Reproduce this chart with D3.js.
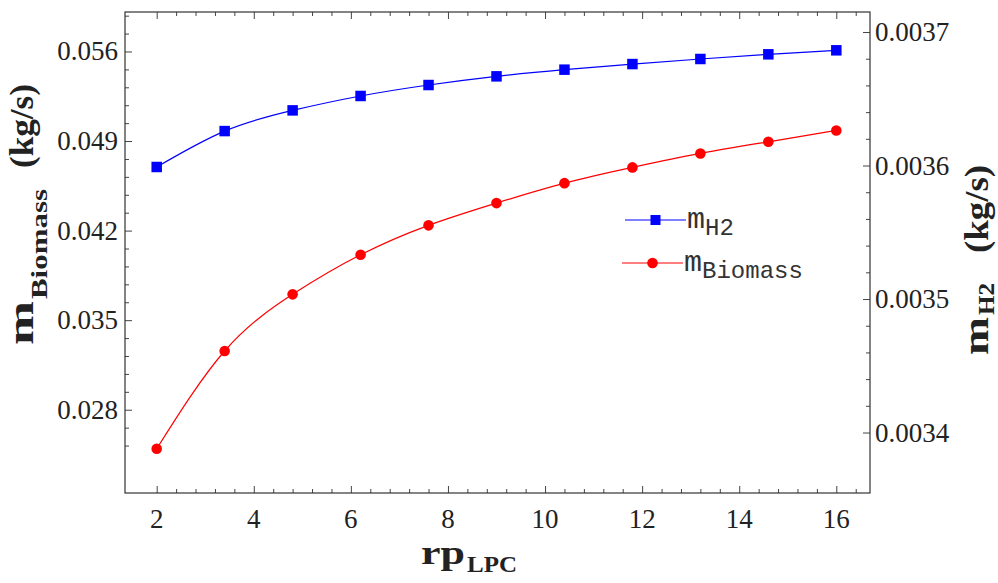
<!DOCTYPE html>
<html>
<head>
<meta charset="utf-8">
<script src="https://cdnjs.cloudflare.com/ajax/libs/d3/7.8.5/d3.min.js"></script>
</head>
<body style="margin:0">
<script>
// Pressure ratio of the low-pressure compressor
const rpLPC = [2, 3.4, 4.8, 6.2, 7.6, 9, 10.4, 11.8, 13.2, 14.6, 16];
// Biomass mass flow (kg/s), left axis
const mBiomass = [0.02495, 0.03259, 0.03702, 0.04011, 0.04241, 0.04415,
                  0.04571, 0.04694, 0.04803, 0.04894, 0.04983];
// Hydrogen mass flow (kg/s), right axis
const mH2 = [0.0035989, 0.0036258, 0.0036413, 0.0036521, 0.0036603, 0.0036668,
             0.0036718, 0.0036760, 0.0036798, 0.0036833, 0.0036863];

const xTicks = [2, 4, 6, 8, 10, 12, 14, 16];
const leftTicks = [0.028, 0.035, 0.042, 0.049, 0.056];
const rightTicks = [0.0034, 0.0035, 0.0036, 0.0037];
const legendLabels = [["m", "H2"], ["m", "Biomass"]];

const SERIF = '"Liberation Serif"';
const MONO = '"Liberation Mono"';

const W = 998, H = 583;
const frame = { left: 125, top: 12, right: 870, bottom: 493 };

const svg = d3.select("body").append("svg").attr("width", W).attr("height", H)
  .style("display", "block");

const x = d3.scaleLinear().domain([1.347, 16.694]).range([frame.left, frame.right]);
const yL = d3.scaleLinear().domain([0.021492, 0.059086]).range([frame.bottom, frame.top]);
const yR = d3.scaleLinear().domain([0.0033547, 0.003715]).range([frame.bottom, frame.top]);

// minor tick values
const xMinor = d3.range(2, 16.41, 0.4).filter(v => Math.abs(v / 2 - Math.round(v / 2)) > 1e-6);
const leftMinor = d3.range(0.0252, 0.0591, 0.0014).filter(v => !leftTicks.some(t => Math.abs(t - v) < 1e-6));
const rightMinor = d3.range(0.0034, 0.003715, 0.00002).filter(v => !rightTicks.some(t => Math.abs(t - v) < 1e-9));

// tick marks only; the labels are set separately below
function addTicks(axis, tx, ty) {
  const g = svg.append("g").attr("transform", `translate(${tx},${ty})`).call(axis.tickFormat(""));
  g.select(".domain").remove();
  g.selectAll(".tick text").remove();
  g.selectAll(".tick line").attr("stroke", "#444").attr("stroke-width", 1);
}
addTicks(d3.axisBottom(x).tickValues(xTicks).tickSizeInner(-7).tickSizeOuter(0), 0, frame.bottom);
addTicks(d3.axisBottom(x).tickValues(xMinor).tickSizeInner(-4).tickSizeOuter(0), 0, frame.bottom);
addTicks(d3.axisTop(x).tickValues(xTicks).tickSizeInner(-7).tickSizeOuter(0), 0, frame.top);
addTicks(d3.axisTop(x).tickValues(xMinor).tickSizeInner(-4).tickSizeOuter(0), 0, frame.top);
addTicks(d3.axisLeft(yL).tickValues(leftTicks).tickSizeInner(-7).tickSizeOuter(0), frame.left, 0);
addTicks(d3.axisLeft(yL).tickValues(leftMinor).tickSizeInner(-4).tickSizeOuter(0), frame.left, 0);
addTicks(d3.axisRight(yR).tickValues(rightTicks).tickSizeInner(-7).tickSizeOuter(0), frame.right, 0);
addTicks(d3.axisRight(yR).tickValues(rightMinor).tickSizeInner(-4).tickSizeOuter(0), frame.right, 0);

// tick labels
const fmtX = d3.format("d"), fmtL = d3.format(".3f"), fmtR = d3.format(".4f");
svg.append("g").selectAll("text").data(xTicks).join("text")
  .attr("x", d => x(d)).attr("y", frame.bottom + 35)
  .attr("text-anchor", "middle").attr("font-family", SERIF).attr("font-size", 27).attr("fill", "#222")
  .text(d => fmtX(d));
svg.append("g").selectAll("text").data(leftTicks).join("text")
  .attr("x", frame.left - 7).attr("y", d => yL(d) + 9)
  .attr("text-anchor", "end").attr("font-family", SERIF).attr("font-size", 27).attr("fill", "#222")
  .text(d => fmtL(d));
svg.append("g").selectAll("text").data(rightTicks).join("text")
  .attr("x", frame.right + 5).attr("y", d => yR(d) + 9)
  .attr("text-anchor", "start").attr("font-family", SERIF).attr("font-size", 27).attr("fill", "#222")
  .text(d => fmtR(d));

// frame
svg.append("rect")
  .attr("x", frame.left).attr("y", frame.top)
  .attr("width", frame.right - frame.left).attr("height", frame.bottom - frame.top)
  .attr("fill", "none").attr("stroke", "#333").attr("stroke-width", 1.2);

// series curves
const lineL = d3.line().x((d, i) => x(rpLPC[i])).y(d => yL(d)).curve(d3.curveNatural);
const lineR = d3.line().x((d, i) => x(rpLPC[i])).y(d => yR(d)).curve(d3.curveNatural);

svg.append("path").datum(mH2).attr("d", lineR)
  .attr("fill", "none").attr("stroke", "#0000ff").attr("stroke-width", 1.2);
svg.append("path").datum(mBiomass).attr("d", lineL)
  .attr("fill", "none").attr("stroke", "#ff0000").attr("stroke-width", 1.2);

// markers
const sq = 10.5;
svg.append("g").selectAll("rect").data(mH2).join("rect")
  .attr("x", (d, i) => x(rpLPC[i]) - sq / 2).attr("y", d => yR(d) - sq / 2)
  .attr("width", sq).attr("height", sq).attr("fill", "#0000ff");
svg.append("g").selectAll("circle").data(mBiomass).join("circle")
  .attr("cx", (d, i) => x(rpLPC[i])).attr("cy", d => yL(d)).attr("r", 5.3)
  .attr("fill", "#ff0000");

// legend
const legend = svg.append("g");
const legendRows = [
  { y: 220, x0: 625, x1: 686, color: "#0000ff", shape: "square" },
  { y: 263, x0: 622, x1: 683, color: "#ff0000", shape: "circle" }
];
legendRows.forEach((r, i) => {
  legend.append("line").attr("x1", r.x0).attr("x2", r.x1).attr("y1", r.y).attr("y2", r.y)
    .attr("stroke", r.color).attr("stroke-width", 1.2);
  const cx = (r.x0 + r.x1) / 2;
  if (r.shape === "square") {
    legend.append("rect").attr("x", cx - 5).attr("y", r.y - 5).attr("width", 10).attr("height", 10).attr("fill", r.color);
  } else {
    legend.append("circle").attr("cx", cx).attr("cy", r.y).attr("r", 5.3).attr("fill", r.color);
  }
  const t = legend.append("text").attr("x", r.x1 + 1).attr("y", r.y + 8)
    .attr("font-family", MONO).attr("fill", "#333");
  t.append("tspan").attr("font-size", 30).text(legendLabels[i][0]);
  t.append("tspan").attr("font-size", 24).attr("dy", 7).text(legendLabels[i][1]);
});

// axis titles: each part is laid out along the text direction and
// stretched to its own length
function title(transform, parts) {
  const g = svg.append("g").attr("transform", transform);
  parts.forEach(p => {
    const t = g.append("text")
      .attr("font-family", SERIF).attr("font-weight", "bold").attr("font-size", p.size)
      .attr("fill", "#222").text(p.text);
    const natural = t.node().getComputedTextLength();
    const sx = p.len / natural;
    t.attr("transform", `translate(${p.at},${p.base}) scale(${sx},1)`);
  });
}
title("translate(33,345) rotate(-90)", [
  { text: "m", size: 35, at: 0, len: 44, base: 0 },
  { text: "Biomass", size: 24, at: 46, len: 110, base: 14 },
  { text: "(kg/s)", size: 34, at: 177, len: 84, base: 0 }
]);
title("translate(988,355) rotate(-90)", [
  { text: "m", size: 35, at: 0, len: 38, base: 0 },
  { text: "H2", size: 23, at: 40, len: 32, base: 6 },
  { text: "(kg/s)", size: 34, at: 102, len: 88, base: 0 }
]);
title("translate(421,564)", [
  { text: "rp", size: 34, at: 0, len: 44, base: 0 },
  { text: "LPC", size: 24, at: 46, len: 50, base: 8 }
]);
</script>
</body>
</html>
